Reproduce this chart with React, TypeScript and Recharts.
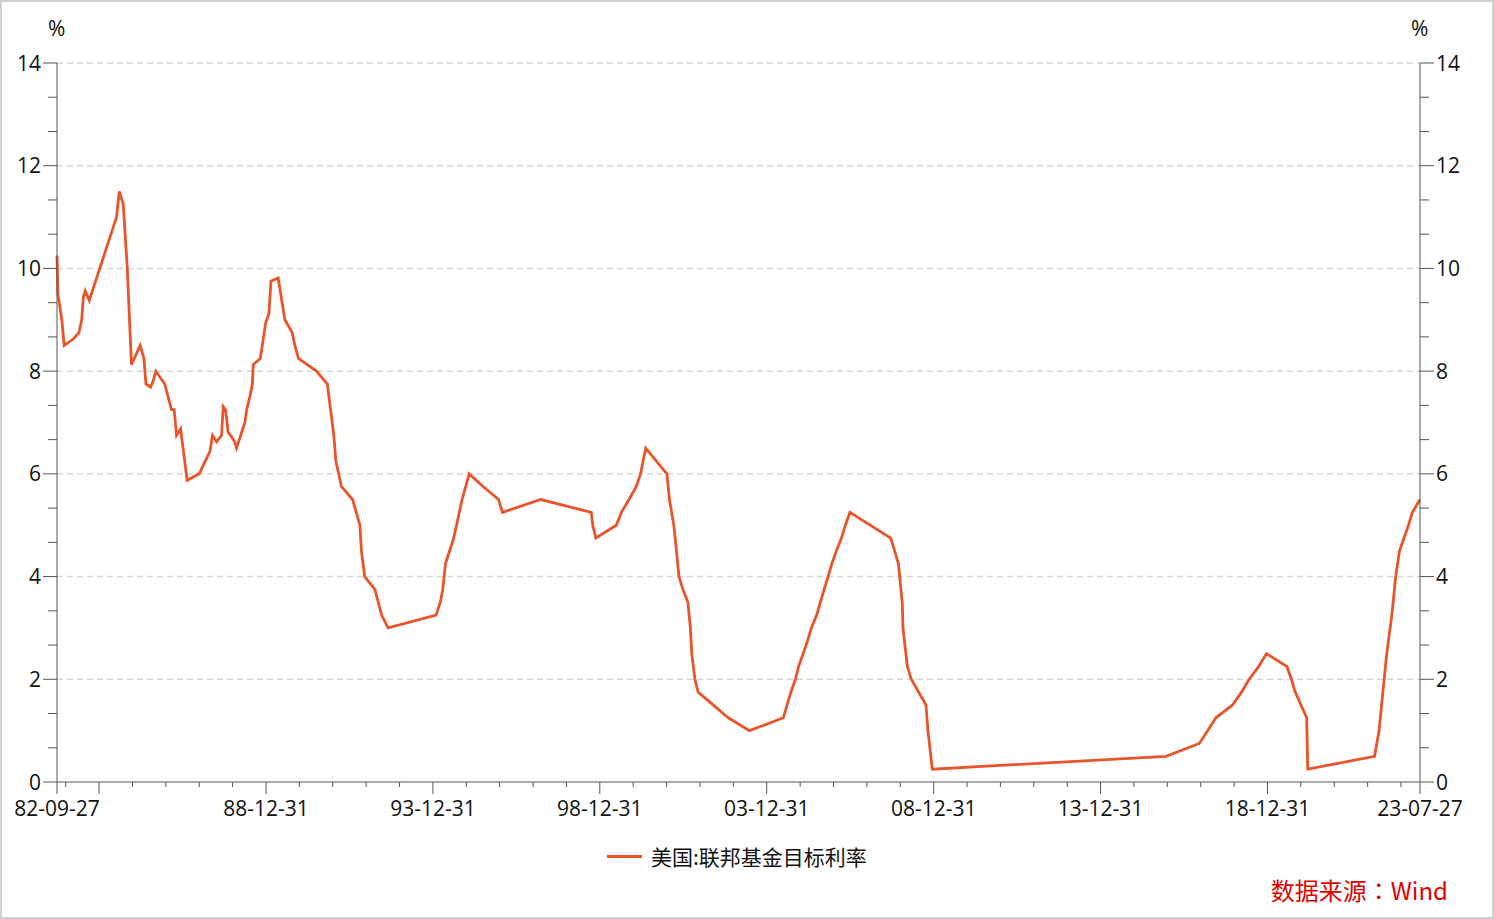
import React from "react";
import { CartesianGrid, Legend, Line, LineChart, XAxis, YAxis } from "recharts";

// 美国:联邦基金目标利率 (%), change dates
const rateDates = [
  "1982-09-27", "1982-10-01", "1982-10-07", "1982-11-19", "1982-12-14",
  "1983-03-24", "1983-05-25", "1983-06-24", "1983-07-12", "1983-08-02", "1983-09-15",
  "1984-07-10", "1984-08-08", "1984-09-21", "1984-11-04", "1984-12-20",
  "1985-03-25", "1985-05-05", "1985-05-27", "1985-07-17", "1985-08-15", "1985-09-13", "1985-12-19",
  "1986-03-03", "1986-04-01", "1986-04-27", "1986-06-10", "1986-08-21", "1986-12-31",
  "1987-04-27", "1987-05-26", "1987-07-08", "1987-09-02", "1987-09-19", "1987-10-15", "1987-11-13",
  "1988-01-24", "1988-02-12", "1988-05-14", "1988-06-02", "1988-07-07", "1988-08-04", "1988-08-13",
  "1988-10-30", "1988-12-27",
  "1989-02-01", "1989-02-23", "1989-05-13", "1989-07-25", "1989-10-13", "1989-11-12", "1989-12-21",
  "1990-07-06", "1990-11-02", "1990-12-07",
  "1991-01-12", "1991-02-03", "1991-04-06", "1991-08-05", "1991-10-24", "1991-11-10", "1991-12-16",
  "1992-04-05", "1992-06-18", "1992-08-28",
  "1994-02-04", "1994-03-22", "1994-04-18", "1994-05-17", "1994-08-16", "1994-11-15",
  "1995-02-01", "1995-07-06", "1995-12-19", "1996-01-31", "1997-03-25",
  "1998-09-29", "1998-10-15", "1998-11-17",
  "1999-06-30", "1999-08-24", "1999-11-16", "2000-02-02", "2000-03-21", "2000-05-16",
  "2001-01-03", "2001-01-31", "2001-03-20", "2001-04-18", "2001-05-15", "2001-06-27",
  "2001-08-21", "2001-09-17", "2001-10-02", "2001-11-06", "2001-12-11",
  "2002-11-06", "2003-06-25",
  "2004-06-30", "2004-08-10", "2004-09-21", "2004-11-10", "2004-12-14",
  "2005-02-02", "2005-03-22", "2005-05-03", "2005-06-30", "2005-08-09", "2005-09-20",
  "2005-11-01", "2005-12-13", "2006-01-31", "2006-03-28", "2006-05-10", "2006-06-29",
  "2007-09-18", "2007-10-31", "2007-12-11",
  "2008-01-22", "2008-01-30", "2008-03-18", "2008-04-30", "2008-10-08", "2008-10-29", "2008-12-16",
  "2015-12-17", "2016-12-15", "2017-03-16", "2017-06-15", "2017-12-14",
  "2018-03-22", "2018-06-14", "2018-09-27", "2018-12-20",
  "2019-08-01", "2019-09-19", "2019-10-31", "2020-03-04", "2020-03-16",
  "2022-03-17", "2022-05-05", "2022-06-16", "2022-07-28", "2022-09-22", "2022-11-03", "2022-12-15",
  "2023-02-02", "2023-03-23", "2023-05-04", "2023-07-27",
];

const rateValues = [
  10.25, 10.0, 9.5, 9.0, 8.5,
  8.625, 8.75, 9.0, 9.4375, 9.5625, 9.375,
  11.0, 11.5, 11.25, 10.0, 8.125,
  8.5, 8.25, 7.75, 7.6875, 7.8125, 8.0, 7.75,
  7.25, 7.25, 6.75, 6.875, 5.875, 6.0,
  6.4375, 6.75, 6.625, 6.75, 7.3125, 7.25, 6.8125,
  6.625, 6.5, 7.0, 7.25, 7.5, 7.75, 8.125,
  8.25, 8.9375,
  9.125, 9.75, 9.8125, 9.0, 8.75, 8.5, 8.25,
  8.0, 7.75, 7.25,
  6.75, 6.25, 5.75, 5.5, 5.0, 4.5, 4.0,
  3.75, 3.25, 3.0,
  3.25, 3.5, 3.75, 4.25, 4.75, 5.5,
  6.0, 5.75, 5.5, 5.25, 5.5,
  5.25, 5.0, 4.75,
  5.0, 5.25, 5.5, 5.75, 6.0, 6.5,
  6.0, 5.5, 5.0, 4.5, 4.0, 3.75,
  3.5, 3.0, 2.5, 2.0, 1.75,
  1.25, 1.0,
  1.25, 1.5, 1.75, 2.0, 2.25,
  2.5, 2.75, 3.0, 3.25, 3.5, 3.75,
  4.0, 4.25, 4.5, 4.75, 5.0, 5.25,
  4.75, 4.5, 4.25,
  3.5, 3.0, 2.25, 2.0, 1.5, 1.0, 0.25,
  0.5, 0.75, 1.0, 1.25, 1.5,
  1.75, 2.0, 2.25, 2.5,
  2.25, 2.0, 1.75, 1.25, 0.25,
  0.5, 1.0, 1.75, 2.5, 3.25, 4.0, 4.5,
  4.75, 5.0, 5.25, 5.5,
];

// axis labels
const yLabels = [0, 2, 4, 6, 8, 10, 12, 14];
const xLabelDates = [
  "1982-09-27", "1988-12-31", "1993-12-31", "1998-12-31", "2003-12-31",
  "2008-12-31", "2013-12-31", "2018-12-31", "2023-07-27",
];
const xLongTickDates = [
  "1982-09-27", "1983-12-31", "1988-12-31", "1993-12-31", "1998-12-31", "2003-12-31",
  "2008-12-31", "2013-12-31", "2018-12-31", "2023-07-27",
];

const seriesName = "美国:联邦基金目标利率";
const lineColor = "#E8552B";
const axisColor = "#555";
const font = "'Open Sans', 'Noto Sans CJK SC', sans-serif";

const toTs = (s: string) => Date.parse(s + "T00:00:00Z");

const data = rateDates.map((d, i) => ({ t: toTs(d), v: rateValues[i] }));

const startTs = toTs(rateDates[0]);
const endTs = toTs(rateDates[rateDates.length - 1]);

// a tick at the start, every year end, and the last date
const xTicks: number[] = [startTs];
for (let y = 1982; y <= 2022; y++) xTicks.push(toTs(`${y}-12-31`));
xTicks.push(endTs);

const xLabelMap = new Map(xLabelDates.map((d) => [toTs(d), d.slice(2)]));
const xLongSet = new Set(xLongTickDates.map(toTs));

// three ticks between labelled values
const yTicks: number[] = [];
for (let i = 0; i < yLabels.length - 1; i++) {
  const step = (yLabels[i + 1] - yLabels[i]) / 3;
  yTicks.push(yLabels[i], yLabels[i] + step, yLabels[i] + 2 * step);
}
yTicks.push(yLabels[yLabels.length - 1]);

const isLabel = (v: number) => yLabels.some((l) => Math.abs(l - v) < 1e-6);

function XTick(props: any) {
  const { x, y, payload } = props;
  const t = payload.value;
  const len = xLongSet.has(t) ? 12 : 5;
  const label = xLabelMap.get(t);
  return (
    <g>
      <line x1={x} y1={y} x2={x} y2={y + len} stroke={axisColor} strokeWidth={1} />
      {label && (
        <text x={x} y={y + 34} textAnchor="middle" fill="#111" fontSize={21} fontFamily={font}>
          {label}
        </text>
      )}
    </g>
  );
}

function YTick(props: any) {
  const { x, y, payload, side } = props;
  const v = payload.value;
  const major = isLabel(v);
  const dir = side === "left" ? -1 : 1;
  const len = major ? 14 : 9;
  return (
    <g>
      <line x1={x} y1={y} x2={x + dir * len} y2={y} stroke={axisColor} strokeWidth={1} />
      {major && (
        <text
          x={x + dir * (len + 2)}
          y={y}
          dy="0.36em"
          textAnchor={side === "left" ? "end" : "start"}
          fill="#111"
          fontSize={21}
          fontFamily={font}
        >
          {Math.round(v)}
        </text>
      )}
    </g>
  );
}

function LegendContent() {
  return (
    <div style={{ display: "flex", alignItems: "center", fontFamily: font }}>
      <span style={{ display: "inline-block", width: 35, height: 3, background: lineColor, marginRight: 9 }} />
      <span style={{ fontSize: 21, color: "#111", fontFamily: "'Noto Sans CJK SC', sans-serif" }}>{seriesName}</span>
    </div>
  );
}

export default function App() {
  return (
    <div
      style={{
        position: "absolute",
        left: 0,
        top: 0,
        width: 1494,
        height: 919,
        background: "#fff",
        fontFamily: font,
      }}
    >
      <LineChart width={1494} height={919} data={data} margin={{ top: 63, right: 0, bottom: 0, left: 0 }}>
        <CartesianGrid
          vertical={false}
          horizontalValues={yLabels.slice(1)}
          yAxisId="left"
          stroke="#d6d6d6"
          strokeWidth={1.5}
          strokeDasharray="6 4"
        />
        <XAxis
          dataKey="t"
          type="number"
          domain={[startTs, endTs]}
          ticks={xTicks}
          interval={0}
          height={137}
          tickSize={0}
          tickMargin={0}
          tickLine={false}
          axisLine={{ stroke: axisColor }}
          tick={<XTick />}
        />
        <YAxis
          yAxisId="left"
          orientation="left"
          type="number"
          domain={[0, 14]}
          ticks={yTicks}
          interval={0}
          width={57}
          tickSize={0}
          tickMargin={0}
          tickLine={false}
          axisLine={{ stroke: axisColor }}
          tick={<YTick side="left" />}
        />
        <YAxis
          yAxisId="right"
          orientation="right"
          type="number"
          domain={[0, 14]}
          ticks={yTicks}
          interval={0}
          width={74}
          tickSize={0}
          tickMargin={0}
          tickLine={false}
          axisLine={{ stroke: axisColor }}
          tick={<YTick side="right" />}
        />
        <Legend
          layout="horizontal"
          verticalAlign="middle"
          align="center"
          content={<LegendContent />}
          wrapperStyle={{ left: 607, top: 841, width: "auto" }}
        />
        <Line
          yAxisId="right"
          type="linear"
          dataKey="v"
          stroke="none"
          dot={false}
          activeDot={false}
          legendType="none"
          isAnimationActive={false}
        />
        <Line
          yAxisId="left"
          type="linear"
          dataKey="v"
          name={seriesName}
          stroke={lineColor}
          strokeWidth={2.8}
          dot={false}
          activeDot={false}
          isAnimationActive={false}
        />
      </LineChart>
      <div style={{ position: "absolute", left: 48, top: 14, fontSize: 21, color: "#111" }}>%</div>
      <div style={{ position: "absolute", left: 1411, top: 14, fontSize: 21, color: "#111" }}>%</div>
      <div
        style={{
          position: "absolute",
          right: 46,
          top: 872,
          fontSize: 24,
          color: "#E00000",
          fontFamily: "'Noto Sans CJK TC', 'Noto Sans CJK SC', sans-serif",
        }}
      >
        数据来源：Wind
      </div>
      <div
        style={{
          position: "absolute",
          left: 0,
          top: 0,
          width: 1494,
          height: 919,
          boxSizing: "border-box",
          border: "2px solid #cfcfcf",
          pointerEvents: "none",
        }}
      />
    </div>
  );
}
